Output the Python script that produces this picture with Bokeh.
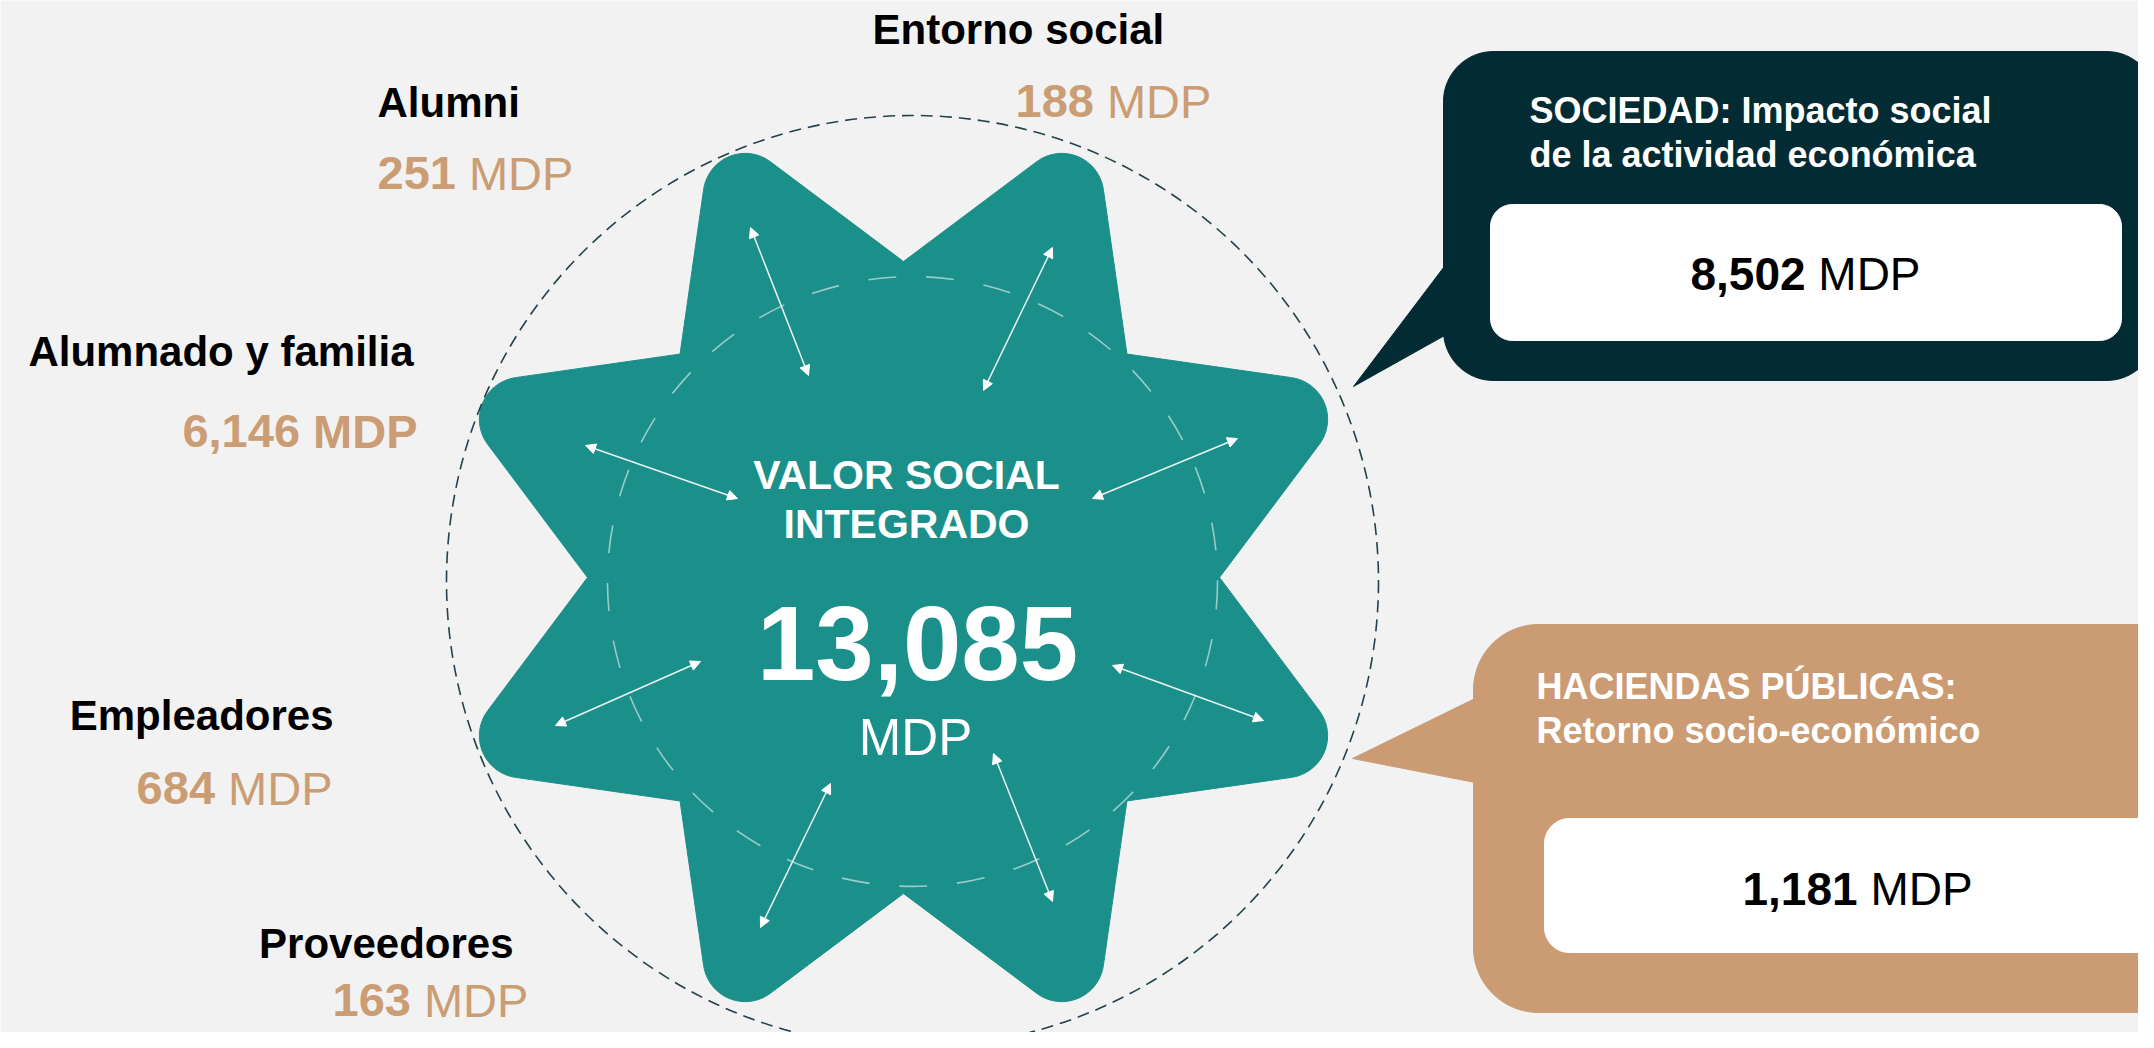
import numpy as np
from bokeh.plotting import figure
from bokeh.models import Range1d, Arrow, NormalHead, ColumnDataSource
from bokeh.embed import file_html
from bokeh.resources import INLINE
from bokeh.core.properties import value

# ---------------- data ----------------
stakeholders = ["Entorno social", "Alumni", "Alumnado y familia", "Empleadores", "Proveedores"]
stakeholder_mdp = [188, 251, 6146, 684, 163]
center_title = ["VALOR SOCIAL", "INTEGRADO"]
total_mdp = 13085
callout_titles = [["SOCIEDAD: Impacto social", "de la actividad económica"],
                  ["HACIENDAS PÚBLICAS:", "Retorno socio-económico"]]
callout_mdp = [8502, 1181]
unit = "MDP"

# ---------------- style ----------------
FONT = "Liberation Sans"
BG = "#F2F2F2"
TEAL = "#1B8F8A"
DARK = "#032B33"
TAN = "#CB9C73"
TAN_TXT = "#CB9D74"
SHIFT = 0.35  # empirical baseline correction (fraction of font size)

W, H = 2138, 1032
p = figure(width=W, height=H, x_range=Range1d(0, W), y_range=Range1d(H, 0),
           output_backend="svg", toolbar_location=None, min_border=0,
           background_fill_color=BG, border_fill_color=BG, outline_line_color=None)
p.axis.visible = False
p.grid.visible = False


def rrect(x0, y0, x1, y1, r, steps=20):
    xs, ys = [], []
    corners = [(x1 - r, y0 + r, -90, 0), (x1 - r, y1 - r, 0, 90),
               (x0 + r, y1 - r, 90, 180), (x0 + r, y0 + r, 180, 270)]
    for cx, cy, a0, a1 in corners:
        a = np.deg2rad(np.linspace(a0, a1, steps))
        xs.extend(cx + r * np.cos(a))
        ys.extend(cy + r * np.sin(a))
    return xs, ys


def rounded_star(cx, cy, r_in, r_out, rho, n=8, steps=24):
    verts = []
    for k in range(n):
        ai = np.deg2rad(360.0 / n * k)
        ao = np.deg2rad(360.0 / n * k + 180.0 / n)
        verts.append(("i", np.array([cx + r_in * np.sin(ai), cy - r_in * np.cos(ai)])))
        verts.append(("o", np.array([cx + r_out * np.sin(ao), cy - r_out * np.cos(ao)])))
    pts = []
    m = len(verts)
    for j, (kind, V) in enumerate(verts):
        if kind == "i":
            pts.append(V)
            continue
        A = verts[j - 1][1]
        B = verts[(j + 1) % m][1]
        u1 = (A - V) / np.linalg.norm(A - V)
        u2 = (B - V) / np.linalg.norm(B - V)
        half = np.arccos(np.clip(np.dot(u1, u2), -1, 1)) / 2
        t = rho / np.tan(half)
        T1 = V + u1 * t
        T2 = V + u2 * t
        bis = (u1 + u2) / np.linalg.norm(u1 + u2)
        C = V + bis * (rho / np.sin(half))
        a1 = np.arctan2(*(T1 - C)[::-1])
        a2 = np.arctan2(*(T2 - C)[::-1])
        d = (a2 - a1 + np.pi) % (2 * np.pi) - np.pi
        for a in a1 + np.linspace(0, d, steps):
            pts.append(C + rho * np.array([np.cos(a), np.sin(a)]))
    pts = np.array(pts)
    return pts[:, 0], pts[:, 1]


ADV = {c: 0.556 for c in "0123456789"}
ADV.update({",": 0.278, " ": 0.278})


def num_width(s, size):
    return size * sum(ADV[c] for c in s)


def txt(x, y, s, size, color, bold=True, align="left"):
    p.text(x=[x], y=[y - SHIFT * size], text=[s], text_font=value(FONT),
           text_font_size=f"{size}px",
           text_font_style="bold" if bold else "normal", text_color=color,
           text_align=align, text_baseline="alphabetic")


def value_text(x, y, n, size, num_color, unit_color, align="left", unit_bold=False):
    s = f"{n:,}"
    wn = num_width(s, size)
    ws = 0.278 * size
    wu = 2.222 * size
    total = wn + ws + wu
    x0 = x - total if align == "right" else (x - total / 2 if align == "center" else x)
    txt(x0, y, s, size, num_color, True, "left")
    txt(x0 + wn + ws, y, unit, size, unit_color, unit_bold, "left")


# ---------------- star ----------------
sx, sy = rounded_star(903, 577, 316, 496, 42)
p.patch(list(sx), list(sy), fill_color=TEAL, line_color=TEAL, line_width=1)

# dashed circles
p.circle(x=[912], y=[581], radius=466, fill_color=None, line_color="#23424C",
         line_width=1.6, line_dash="12 7")
p.circle(x=[912], y=[581], radius=305, fill_color=None, line_color="white",
         line_alpha=0.55, line_width=1.6, line_dash="28 30")

# arrows
arr = ColumnDataSource(dict(
    x0=[750, 1052, 585, 1237, 555, 1263, 760, 1052],
    y0=[227, 247, 445, 438, 725, 720, 927, 901],
    x1=[808, 983, 737, 1092, 700, 1112, 830, 993],
    y1=[375, 390, 498, 498, 661, 665, 783, 753],
))
p.add_layout(Arrow(x_start="x0", y_start="y0", x_end="x1", y_end="y1", source=arr,
                   line_color="white", line_width=1.5, line_alpha=0.9,
                   start=NormalHead(size=10, fill_color="white", line_color="white"),
                   end=NormalHead(size=10, fill_color="white", line_color="white")))

# center texts
txt(906, 489, center_title[0], 41, "white", True, "center")
txt(906, 538, center_title[1], 41, "white", True, "center")
txt(917, 680, f"{total_mdp:,}", 105, "white", True, "center")
txt(915, 755, unit, 51, "white", False, "center")

# stakeholder labels
label_pos = [(872, 44, "left"), (377, 117, "left"), (413, 366, "right"),
             (333, 730, "right"), (513, 958, "right")]
value_pos = [(1015, 117, "left"), (377, 189, "left"), (417, 447, "right"),
             (332, 804, "right"), (332, 1016, "left")]
unit_bold = [False, False, True, False, False]
for name, v, lp, vp, ub in zip(stakeholders, stakeholder_mdp, label_pos, value_pos, unit_bold):
    txt(lp[0], lp[1], name, 42, "black", True, lp[2])
    value_text(vp[0], vp[1], v, 47, TAN_TXT, TAN_TXT, vp[2], ub)

# ---------------- callouts ----------------
# dark (Sociedad)
bx, by = rrect(1443, 51, 2156, 380, 50)
p.patch(bx, by, fill_color=DARK, line_color=DARK)
p.patch([1462, 1462, 1353], [242, 325, 386], fill_color=DARK, line_color=DARK)
wx, wy = rrect(1490, 204, 2121, 340, 22)
p.patch(wx, wy, fill_color="white", line_color="white")
txt(1529, 123, callout_titles[0][0], 36, "white")
txt(1529, 167, callout_titles[0][1], 36, "white")
value_text(1805, 290, callout_mdp[0], 46, "black", "black", "center")

# tan (Haciendas)
bx, by = rrect(1473, 624, 2240, 1012, 65)
p.patch(bx, by, fill_color=TAN, line_color=TAN)
p.patch([1495, 1495, 1352], [688, 786, 758], fill_color=TAN, line_color=TAN)
wx, wy = rrect(1544, 818, 2240, 952, 25)
p.patch(wx, wy, fill_color="white", line_color="white")
txt(1536, 699, callout_titles[1][0], 36, "white")
txt(1536, 743, callout_titles[1][1], 36, "white")
value_text(1742, 905, callout_mdp[1], 46, "black", "black", "left")

open("out.html", "w").write(file_html(p, INLINE))
